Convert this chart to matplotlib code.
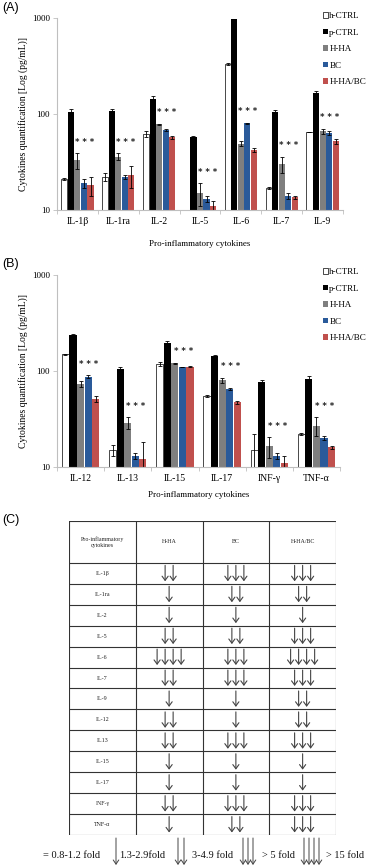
import numpy as np
import matplotlib
matplotlib.use("Agg")
import matplotlib.pyplot as plt

plt.rcParams['font.family'] = ['Liberation Serif', 'DejaVu Serif']

# ---------------- DATA ----------------
groups = ["h-CTRL", "p-CTRL", "H-HA", "BC", "H-HA/BC"]
colors = ["white", "black", "#7f7f7f", "#2a5a9a", "#c0504d"]

cyto_a = ["IL-1β", "IL-1ra", "IL-2", "IL-5", "IL-6", "IL-7", "IL-9"]
vals_a = {
    "h-CTRL":  [21, 22, 62, np.nan, 330, 17, 65],
    "p-CTRL":  [105, 108, 145, 58, 980, 105, 165],
    "H-HA":    [33, 36, 78, 15, 49, 30, 66],
    "BC":      [19, 22, 68, 13, 80, 14, 64],
    "H-HA/BC": [18, 23, 57, 11, 42, 13.5, 52],
}
err_a = {
    "h-CTRL":  [0.6, 2, 5, 0, 6, 0.4, 0.5],
    "p-CTRL":  [8, 6, 8, 1, 0, 5, 9],
    "H-HA":    [6, 3, 1, 4, 3, 6, 4],
    "BC":      [2, 1, 2, 1, 1, 1, 3],
    "H-HA/BC": [4, 6, 1.5, 1.5, 2, 0.6, 3],
}

cyto_b = ["IL-12", "IL-13", "IL-15", "IL-17", "INF-γ", "TNF-α"]
vals_b = {
    "h-CTRL":  [150, 15, 118, 55, 15, 22],
    "p-CTRL":  [235, 105, 195, 145, 76, 82],
    "H-HA":    [73, 29, 120, 80, 16.5, 27],
    "BC":      [87, 13, 110, 65, 13, 20],
    "H-HA/BC": [51, 12, 111, 47, 11, 16],
}
err_b = {
    "h-CTRL":  [2, 2, 6, 1, 7, 0.5],
    "p-CTRL":  [8, 6, 12, 1, 5, 7],
    "H-HA":    [5, 4, 2, 5, 4, 6],
    "BC":      [3, 1, 1, 1, 1, 1],
    "H-HA/BC": [4, 6, 1, 2, 2, 0.5],
}

# ---------------- TABLE DATA ----------------
table_rows = ["IL-1β", "IL-1ra", "IL-2", "IL-5", "IL-6", "IL-7", "IL-9",
              "IL-12", "IL13", "IL-15", "IL-17", "INF-γ", "TNF-α"]
table_cols = ["H-HA", "BC", "H-HA/BC"]
arrows_hha = [2, 1, 1, 2, 4, 2, 1, 2, 2, 1, 1, 2, 1]
arrows_bc = [3, 2, 1, 2, 3, 3, 1, 1, 3, 1, 1, 3, 2]
arrows_combo = [3, 2, 1, 3, 4, 3, 2, 2, 3, 1, 1, 3, 3]

key_labels = ["= 0.8-1.2 fold", "1.3-2.9fold", "3-4.9 fold", "> 5 fold", "> 15 fold"]

W, H = 368, 867
fig = plt.figure(figsize=(W / 100, H / 100), dpi=100)

AXIS_GRAY = "#bfbfbf"


def px_rect(x0, y0, x1, y1):
    return [x0 / W, 1 - y1 / H, (x1 - x0) / W, (y1 - y0) / H]


def bar_panel(rect, cats, vals, errs, label_pad):
    ax = fig.add_axes(rect)
    x = np.arange(len(cats))
    step = 0.16
    for i, g in enumerate(groups):
        ax.bar(x + (i - 2) * step, vals[g], width=0.15, color=colors[i],
               edgecolor="black" if g == "h-CTRL" else "none", linewidth=0.5,
               yerr=errs[g], error_kw=dict(ecolor="black", elinewidth=0.6,
                                           capsize=1.4, capthick=0.6),
               label=g, zorder=2)
    # significance stars
    for k in range(len(cats)):
        top = max(vals["H-HA"][k] + errs["H-HA"][k], vals["BC"][k] + errs["BC"][k],
                  vals["H-HA/BC"][k] + errs["H-HA/BC"][k])
        ax.text(x[k] + 1.1 * step, top * 1.3, "* * *", ha="center", va="center",
                fontsize=6, fontweight="bold", color="#222222",
                family="DejaVu Sans")
    ax.set_yscale("log")
    ax.set_ylim(10, 1000)
    ax.set_xlim(-0.5, len(cats) - 0.5)
    ax.set_yticks([10, 100, 1000])
    ax.set_yticklabels(["10", "100", "1000"])
    ax.minorticks_off()
    ax.set_xticks(x)
    ax.set_xticklabels(cats, fontsize=7)
    ax.set_xticks(np.arange(len(cats) + 1) - 0.5, minor=True)
    ax.tick_params(axis="x", which="major", length=0, pad=5)
    ax.tick_params(axis="x", which="minor", length=3, color=AXIS_GRAY, width=0.6)
    ax.tick_params(axis="y", length=3, color=AXIS_GRAY, width=0.6, labelsize=6.5, pad=2)
    for s in ["top", "right"]:
        ax.spines[s].set_visible(False)
    for s in ["left", "bottom"]:
        ax.spines[s].set_color(AXIS_GRAY)
        ax.spines[s].set_linewidth(0.8)
    ax.set_xlabel("Pro-inflammatory cytokines", fontsize=6.5, labelpad=label_pad)
    ax.set_ylabel("Cytokines quantification [Log (pg/mL)]", fontsize=6.9, labelpad=3)
    return ax


ax_a = bar_panel(px_rect(57, 18, 343, 210), cyto_a, vals_a, err_a, 10)
ax_b = bar_panel(px_rect(57, 275, 340, 467), cyto_b, vals_b, err_b, 6)

for ax, ytop in [(ax_a, 12), (ax_b, 268)]:
    ax.legend(loc="upper left", bbox_to_anchor=(323 / W, 1 - ytop / H),
              bbox_transform=fig.transFigure, frameon=False, fontsize=6.5,
              handlelength=0.55, handleheight=0.55, handletextpad=0.15,
              labelspacing=0.95, borderaxespad=0, borderpad=0)

for lab, y in [("(A)", 8), ("(B)", 264), ("(C)", 520)]:
    fig.text(2 / W, 1 - y / H, lab, fontsize=9, family="Liberation Sans",
             va="center", ha="left")

# ---------------- TABLE (C) ----------------
axt = fig.add_axes(px_rect(69, 521, 336, 835))
n_rows = len(table_rows)
axt.set_xlim(0, 4)
axt.set_ylim(n_rows + 2, 0)
axt.axis("off")
line_kw = dict(color="#333333", lw=0.8)
for yy in [0, 2] + list(range(3, n_rows + 3)):
    axt.plot([0, 4], [yy, yy], **line_kw)
for xx in range(5):
    axt.plot([xx, xx], [0, n_rows + 2], **line_kw)

axt.text(0.5, 1, "Pro-inflammatory\ncytokines", ha="center", va="center",
         fontsize=4.3, color="#222222", linespacing=1.3)
for j, c in enumerate(table_cols):
    axt.text(j + 1.5, 1, c, ha="center", va="center", fontsize=4.3, color="#222222")

col_arrows = [arrows_hha, arrows_bc, arrows_combo]
spacing = 0.12
for r, name in enumerate(table_rows):
    yc = r + 2.5
    axt.text(0.5, yc, name, ha="center", va="center", fontsize=4.3, color="#222222")
    for j, counts in enumerate(col_arrows):
        n = counts[r]
        for k in range(n):
            xa = j + 1.5 + (k - (n - 1) / 2) * spacing
            axt.annotate("", xy=(xa, yc + 0.38), xytext=(xa, yc - 0.38),
                         arrowprops=dict(arrowstyle="->,head_length=0.3,head_width=0.22",
                                         lw=0.8, color="#444444",
                                         shrinkA=0, shrinkB=0))

# ---------------- FOLD KEY ----------------
axk = fig.add_axes(px_rect(0, 836, W, H))
axk.set_xlim(0, W)
axk.set_ylim(H, 836)
axk.axis("off")
text_x = [43, 119, 192, 262, 326]
arrow_x = [[], [116], [178, 184], [243, 248, 253], [304, 309, 314, 319]]
for lab, tx in zip(key_labels, text_x):
    axk.text(tx, 855, lab, ha="left", va="center", fontsize=7.5, color="#111111")
for xs in arrow_x:
    for xa in xs:
        axk.annotate("", xy=(xa, 865), xytext=(xa, 838),
                     arrowprops=dict(arrowstyle="->,head_length=0.3,head_width=0.2",
                                     lw=0.7, color="#444444", shrinkA=0, shrinkB=0))

fig.savefig("out.png", dpi=100)
